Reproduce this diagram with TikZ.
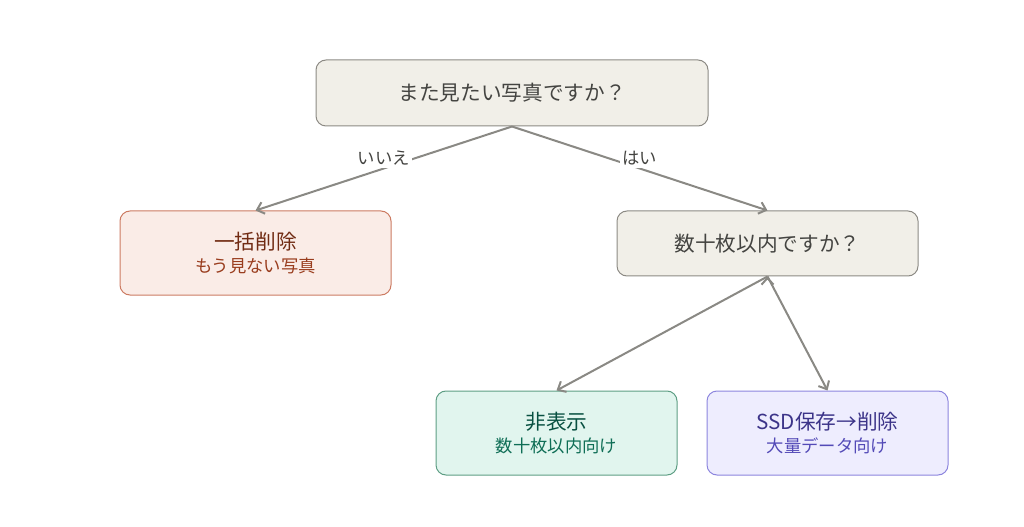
\documentclass[tikz,border=0pt]{standalone}
\usepackage{fontspec}
\setmainfont{Noto Sans CJK JP}
\usetikzlibrary{positioning, arrows.meta}

\definecolor{qfill}{HTML}{F1EFE8}
\definecolor{qdraw}{HTML}{8C8A84}
\definecolor{qtext}{HTML}{444441}
\definecolor{nofill}{HTML}{FAECE7}
\definecolor{nodraw}{HTML}{CC7B62}
\definecolor{notext}{HTML}{712B13}
\definecolor{nosub}{HTML}{993C1D}
\definecolor{hidefill}{HTML}{E1F5EE}
\definecolor{hidedraw}{HTML}{5E9E84}
\definecolor{hidetext}{HTML}{085041}
\definecolor{hidesub}{HTML}{0F6E56}
\definecolor{ssdfill}{HTML}{EEEDFE}
\definecolor{ssddraw}{HTML}{8C85DE}
\definecolor{ssdtext}{HTML}{3C3489}
\definecolor{ssdsub}{HTML}{534AB7}
\definecolor{edgecol}{HTML}{8A8984}

\newcommand{\ttl}{\fontsize{15.5}{18}\selectfont}
\newcommand{\sub}{\fontsize{13}{16}\selectfont}

\begin{document}
\begin{tikzpicture}[x=0.75pt, y=-0.75pt,
    box/.style={rounded corners=7.5pt, line width=0.75pt, align=center, inner sep=0pt},
    qbox/.style={box, fill=qfill, draw=qdraw, text=qtext, font=\ttl},
    lbl/.style={fill=white, text=qtext, font=\fontsize{13}{15}\selectfont, inner sep=2pt},
    ->, >={Straight Barb[length=5pt, width=9pt]}, line width=1.5pt, draw=edgecol]

    \useasboundingbox (0,0) rectangle (1024,527);

    \node[qbox, minimum width=294pt, minimum height=49.5pt] (q1) at (512,93) {また見たい写真ですか？};
    \node[qbox, minimum width=225.75pt, minimum height=48.75pt] (q2) at (767.5,243.5) {数十枚以内ですか？};

    \node[box, fill=nofill, draw=nodraw, minimum width=203.25pt, minimum height=63pt] (del) at (255.5,253)
        {\ttl\color{notext}一括削除\\[4pt]\sub\color{nosub}もう見ない写真};
    \node[box, fill=hidefill, draw=hidedraw, minimum width=180.75pt, minimum height=63pt] (hide) at (556.5,433)
        {\ttl\color{hidetext}非表示\\[4pt]\sub\color{hidesub}数十枚以内向け};
    \node[box, fill=ssdfill, draw=ssddraw, minimum width=180.75pt, minimum height=63pt] (ssd) at (827.5,433)
        {\ttl\color{ssdtext}SSD保存→削除\\[4pt]\sub\color{ssdsub}大量データ向け};

    \path[draw=edgecol]
    (q1.south) edge node[lbl, pos=0.5, yshift=8pt] {いいえ} (del.north)
    (q1.south) edge node[lbl, pos=0.5, yshift=8pt] {はい} (q2.north)
    (q2.south) edge (hide.north)
    (q2.south) edge (ssd.north);

\end{tikzpicture}
\end{document}
